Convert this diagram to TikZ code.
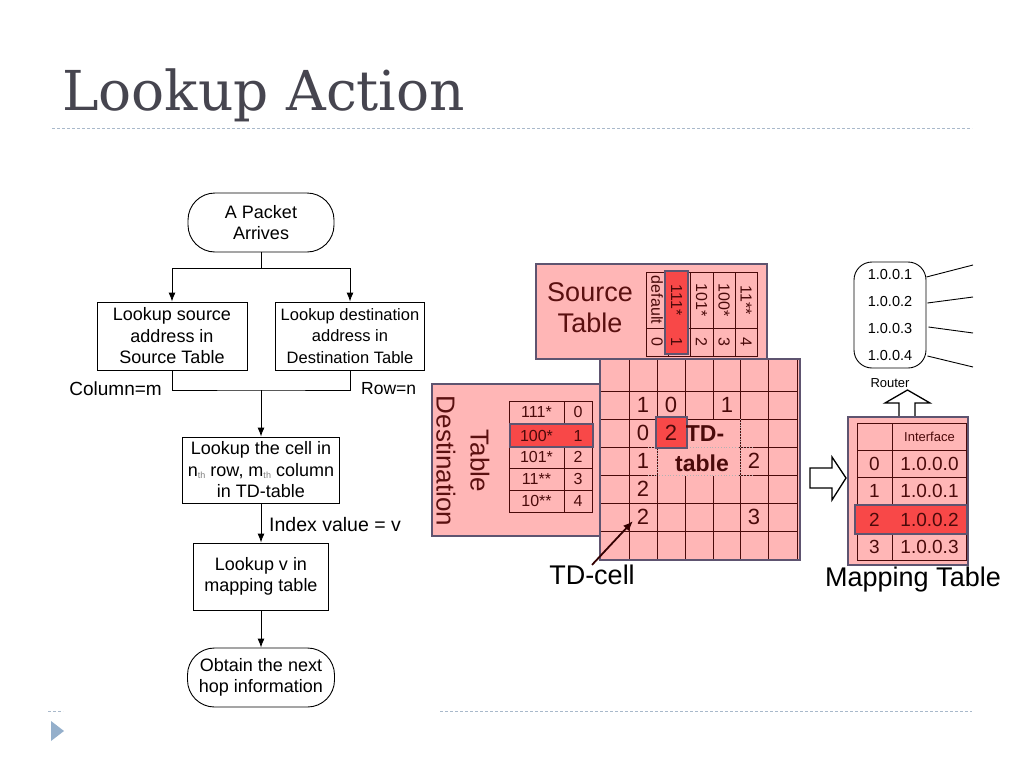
\documentclass[tikz,border=0pt]{standalone}
\usepackage{fontspec}
\setmainfont{Liberation Sans}
\newfontfamily\titlefont{DejaVu Serif}
\usetikzlibrary{arrows.meta,calc}
\definecolor{pinkfill}{HTML}{FFB6B6}
\definecolor{pinkedge}{HTML}{5E5470}
\definecolor{cellred}{HTML}{4A0A0A}
\definecolor{hired}{HTML}{F84848}
\definecolor{titlegray}{HTML}{46454F}
\definecolor{rulecol}{HTML}{A9B9CB}
\definecolor{bulletcol}{HTML}{94AFCB}
\definecolor{redtext}{HTML}{5A1010}
\newcommand\fs[2]{\fontsize{#1}{#2}\selectfont}
\newcommand\thx{\raisebox{-2.5pt}{\fs{9}{9}\color{gray}th}}
\begin{document}
\begin{tikzpicture}[x=1pt,y=-1pt,
  fbox/.style={draw=black, line width=0.9pt, align=center, inner sep=0pt, font=\fs{18}{21.5}},
  stad/.style={fbox, rounded corners=27pt},
  arr/.style={-{Latex[length=9pt,width=7pt]}, line width=0.9pt},
  plain/.style={line width=0.9pt},
  lbl/.style={inner sep=0pt, font=\fs{19}{21}},
  pinkbox/.style={fill=pinkfill, draw=pinkedge, line width=1.6pt},
  gridl/.style={draw=cellred, line width=1pt},
  hilite/.style={fill=hired, draw=pinkedge, line width=1.6pt},
  cellt/.style={text=cellred, inner sep=0pt, font=\fs{16}{16}},
  tdnum/.style={text=cellred, inner sep=0pt, font=\fs{22}{22}},
  bigt/.style={inner sep=0pt, font=\fs{27}{31}, align=center},
  hollow/.style={draw=black, line width=1.3pt, fill=white, line join=miter}
]
\useasboundingbox (0,0) rectangle (1024,768);

% ---------- title and rules ----------
\node[anchor=base west, inner sep=0pt, text=titlegray, font=\titlefont\fs{55}{55}] (title) at (62,110) {Lookup Action};
\draw[rulecol, dash pattern=on 3pt off 2pt, line width=0.8pt] (52,128) -- (972,128);
\draw[rulecol, dash pattern=on 3pt off 2pt, line width=0.8pt] (440,711) -- (972,711);
\draw[rulecol, dash pattern=on 3pt off 2pt, line width=0.8pt] (48,711) -- (63,711);
\fill[bulletcol] (51,721) -- (64,731) -- (51,741) -- cycle;

% ---------- flowchart ----------
\node[stad, minimum width=146pt, minimum height=59pt] (s) at (261,222.5) {A Packet\\Arrives};
\node[fbox, minimum width=150pt, minimum height=68pt] (b1) at (172,336) {Lookup source\\address in\\Source Table};
\node[fbox, minimum width=149pt, minimum height=68pt, font=\fs{16.5}{21.5}] (b2) at (350,336) {Lookup destination\\address in\\Destination Table};
\node[fbox, minimum width=157pt, minimum height=66pt] (b3) at (261,470) {Lookup the cell in\\n\thx{} row, m\thx{} column\\in TD-table};
\node[fbox, minimum width=135pt, minimum height=67pt] (b4) at (261,576.5) {Lookup v in\\mapping table};
\node[stad, minimum width=147pt, minimum height=59pt] (e) at (261,677.5) {Obtain the next\\hop information};

\coordinate (j1) at (261,268);
\coordinate (j2) at (261,390);
\draw[plain] (s) -- (j1);
\draw[arr] (j1) -| (b1);
\draw[arr] (j1) -| (b2);
\draw[plain] (b1) |- (j2) -| (b2);
\draw[arr] (j2) -- (b3);
\draw[arr] (b3) -- (b4);
\draw[arr] (b4) -- (e);

\node[lbl, anchor=east] (colm) at (162,389) {Column=m};
\node[lbl, anchor=west, font=\fs{17.5}{21}] (rown) at (361,389) {Row=n};
\node[lbl, anchor=west, font=\fs{19.5}{21}] (idx) at (269,525) {Index value = v};

% ---------- source table ----------
\draw[pinkbox] (536,264) rectangle (767,359);
\node[bigt, text=redtext] (srclabel) at (590,308) {Source\\Table};
\draw[gridl] (646,272) rectangle (757,356);
\foreach \xx in {668,690,713,735} \draw[gridl] (\xx,272) -- (\xx,356);
\draw[gridl] (646,328) -- (757,328);
\draw[hilite] (665,271) rectangle (688,354);
\foreach \xx/\hh/\vv in {657/default/0, 676.5/111*/1, 701.5/101*/2, 724/100*/3, 746/11**/4}{
  \node[cellt, rotate=-90] at (\xx,300) {\hh};
  \node[cellt, rotate=-90] at (\xx,342) {\vv};
}

% ---------- destination table ----------
\draw[pinkbox] (432,384) rectangle (600,536);
\node[bigt, text=redtext, rotate=-90, font=\fs{26}{34}] (dstlabel) at (463,461) {Table\\Destination};
\draw[gridl] (509,401) rectangle (592,512);
\draw[gridl] (564,401) -- (564,512);
\foreach \yy in {423,446,468,490} \draw[gridl] (509,\yy) -- (592,\yy);
\draw[hilite] (510,424) rectangle (593,447);
\foreach \yy/\aa/\bb in {412/111*/0, 435.5/100*/1, 457/101*/2, 479/11**/3, 501/10**/4}{
  \node[cellt] at (536.5,\yy) {\aa};
  \node[cellt] at (578,\yy) {\bb};
}

% ---------- TD table ----------
\draw[pinkbox] (600,359) rectangle (800,560);
\foreach \yy in {391,419,447,475,503,531} \draw[gridl] (601,\yy) -- (797,\yy);
\foreach \xx in {629,657,685,713,740,768,797} \draw[gridl] (\xx,360) -- (\xx,559);
\fill[pinkfill] (686,420) rectangle (739,476);
\fill[pinkfill] (658,448) rectangle (686,476);
\draw[gray!60, dotted, line width=0.8pt] (648,447) -- (753,447);
\draw[gray!60, dotted, line width=0.8pt] (648,475) -- (753,475);
\draw[gray!60, dotted, line width=0.8pt] (657,447) -- (657,475);
\draw[gray!60, dotted, line width=0.8pt] (740,419) -- (740,475);
\draw[hilite] (656,417) rectangle (687,448);
\foreach \xx/\yy/\tt in {643/405/1, 671/405/0, 727/405/1, 643/433/0, 671/433/2, 643/461/1, 754/461/2, 643/489/2, 643/517/2, 754/517/3}
  \node[tdnum] at (\xx,\yy) {\tt};
\node[inner sep=0pt, text=cellred, font=\bfseries\fs{23}{23}] (tdl1) at (705,434) {TD-};
\node[inner sep=0pt, text=cellred, font=\bfseries\fs{23}{23}] (tdl2) at (702,463) {table};

\node[bigt] (tdcell) at (592,575) {TD-cell};
\coordinate (tdtip) at (633,521);
\draw[-{Latex[length=10pt,width=8pt]}, line width=1.8pt, draw=black!80!red] (tdcell.north) -- (tdtip);

% ---------- arrows to mapping table / router ----------
\draw[hollow] (810,468) -- (832,468) -- (832,457) -- (846,478) -- (832,500) -- (832,488) -- (810,488) -- cycle;
\draw[hollow] (899,418) -- (899,403) -- (885,403) -- (907.5,390) -- (930,403) -- (915,403) -- (915,418);

% ---------- mapping table ----------
\draw[pinkbox] (848,417) rectangle (968,565);
\draw[gridl] (857,423) rectangle (966,560);
\draw[gridl] (892,423) -- (892,560);
\foreach \yy in {450,477,505,533} \draw[gridl] (857,\yy) -- (966,\yy);
\draw[hilite] (855,505) rectangle (967,534);
\node[cellt, font=\fs{13}{13}] at (929.5,436.5) {Interface};
\foreach \yy/\aa/\bb in {463.5/0/1.0.0.0, 491/1/1.0.0.1, 519.5/2/1.0.0.2, 546.5/3/1.0.0.3}{
  \node[cellt, font=\fs{19}{19}] at (874.5,\yy) {\aa};
  \node[cellt, font=\fs{19}{19}] at (929.5,\yy) {\bb};
}
\node[bigt] (maplabel) at (913,580) {Mapping Table};

% ---------- router ----------
\node[draw=black, line width=0.9pt, rounded corners=18pt, minimum width=72pt, minimum height=106pt, align=center, inner sep=0pt, font=\fs{14.5}{27.3}] (router) at (890,315) {1.0.0.1\\1.0.0.2\\1.0.0.3\\1.0.0.4};
\coordinate (r1e) at (973,265);
\coordinate (r2e) at (973,297);
\coordinate (r3e) at (973,333);
\coordinate (r4e) at (973,367);
\draw[plain] ($(router.east)+(0,-38)$) -- (r1e);
\draw[plain] ($(router.east)+(1,-12)$) -- (r2e);
\draw[plain] ($(router.east)+(2,12)$) -- (r3e);
\draw[plain] ($(router.east)+(1,41)$) -- (r4e);
\node[inner sep=0pt, font=\fs{13}{13}] (routerlbl) at (890,383) {Router};
\end{tikzpicture}
\end{document}
